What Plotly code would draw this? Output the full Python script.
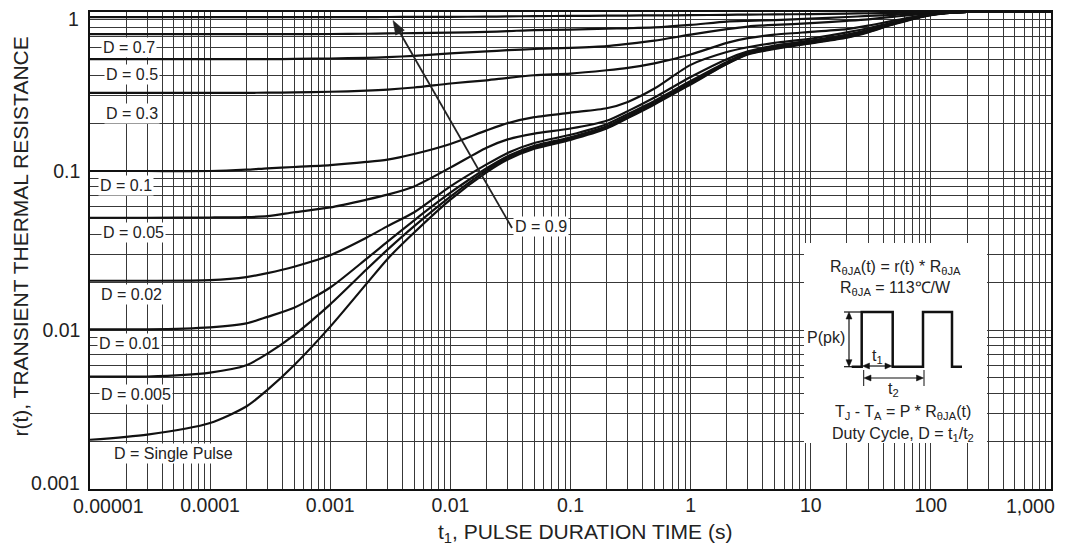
import math
import plotly.graph_objects as go

# ---------------- data ----------------
t = [1e-5, 3e-5, 1e-4, 2e-4, 3e-4, 5e-4, 1e-3, 2e-3, 3e-3, 5e-3, 1e-2, 2e-2, 3e-2, 5e-2,
     0.1, 0.2, 0.3, 0.5, 1, 2, 3, 5, 10, 20, 30, 50, 100, 200, 1000]

r_single = [0.00204, 0.0022, 0.0026, 0.0033, 0.0042, 0.006, 0.0105, 0.0195, 0.028, 0.041, 0.066,
            0.098, 0.118, 0.138, 0.157, 0.185, 0.215, 0.262, 0.35, 0.47, 0.54, 0.585, 0.635,
            0.69, 0.745, 0.84, 0.955, 1.0, 1.0]
r_d005 = [0.0051, 0.0051, 0.0054, 0.006, 0.0071, 0.0093, 0.0145, 0.024, 0.032, 0.045, 0.069,
          0.101, 0.121, 0.141, 0.16, 0.188, 0.218, 0.265, 0.355, 0.473, 0.545, 0.59, 0.64,
          0.695, 0.75, 0.845, 0.958, 1.0, 1.0]
r_d01 = [0.0101, 0.0101, 0.0104, 0.011, 0.0121, 0.0138, 0.0185, 0.028, 0.036, 0.049, 0.073,
         0.104, 0.124, 0.144, 0.163, 0.191, 0.222, 0.27, 0.36, 0.477, 0.55, 0.595, 0.645, 0.70,
         0.755, 0.85, 0.96, 1.0, 1.0]
r_d02 = [0.0204, 0.0204, 0.0206, 0.0215, 0.0228, 0.025, 0.0295, 0.038, 0.045, 0.055, 0.08,
         0.11, 0.13, 0.15, 0.169, 0.197, 0.228, 0.276, 0.368, 0.485, 0.556, 0.602, 0.652, 0.707,
         0.762, 0.854, 0.962, 1.0, 1.0]
r_d05 = [0.0508, 0.0508, 0.051, 0.0513, 0.052, 0.055, 0.059, 0.066, 0.071, 0.08, 0.105, 0.14,
         0.158, 0.172, 0.185, 0.207, 0.238, 0.29, 0.39, 0.505, 0.565, 0.615, 0.66, 0.72, 0.772,
         0.858, 0.964, 1.0, 1.0]
r_d1 = [0.1, 0.1, 0.1, 0.102, 0.104, 0.106, 0.109, 0.114, 0.118, 0.128, 0.148, 0.18, 0.2, 0.218,
        0.233, 0.248, 0.272, 0.33, 0.465, 0.56, 0.6, 0.64, 0.68, 0.745, 0.79, 0.865, 0.967,
        1.0, 1.0]
r_d3 = [0.31, 0.31, 0.31, 0.31, 0.311, 0.312, 0.315, 0.32, 0.325, 0.335, 0.355, 0.372, 0.385,
        0.40, 0.41, 0.43, 0.445, 0.475, 0.54, 0.64, 0.685, 0.72, 0.75, 0.78, 0.82, 0.885, 0.97,
        1.0, 1.0]
r_d5 = [0.505, 0.505, 0.505, 0.505, 0.505, 0.507, 0.51, 0.515, 0.52, 0.53, 0.55, 0.565, 0.575,
        0.585, 0.595, 0.61, 0.63, 0.66, 0.72, 0.78, 0.81, 0.83, 0.85, 0.88, 0.9, 0.935, 0.98,
        1.0, 1.0]
r_d7 = [0.725, 0.725, 0.725, 0.725, 0.725, 0.726, 0.727, 0.73, 0.733, 0.737, 0.742, 0.75, 0.758,
        0.77, 0.775, 0.785, 0.79, 0.80, 0.83, 0.87, 0.88, 0.89, 0.91, 0.93, 0.945, 0.96, 0.99,
        1.0, 1.0]
r_d9 = [0.928, 0.928, 0.928, 0.928, 0.928, 0.928, 0.928, 0.929, 0.93, 0.931, 0.932, 0.935,
        0.938, 0.942, 0.945, 0.948, 0.95, 0.952, 0.955, 0.96, 0.963, 0.966, 0.97, 0.978, 0.982,
        0.986, 0.995, 1.0, 1.0]

series = [r_single, r_d005, r_d01, r_d02, r_d05, r_d1, r_d3, r_d5, r_d7, r_d9]

x_decades = [1e-5, 1e-4, 1e-3, 1e-2, 1e-1, 1, 10, 100, 1000]
x_tick_text = ["0.00001", "0.0001", "0.001", "0.01", "0.1", "1", "10", "100", "1,000"]
y_decades = [0.001, 0.01, 0.1, 1]
y_tick_text = ["0.001", "0.01", "0.1", "1"]

curve_labels = ["D = 0.7", "D = 0.5", "D = 0.3", "D = 0.1", "D = 0.05", "D = 0.02",
                "D = 0.01", "D = 0.005", "D = Single Pulse"]
x_title = "t<sub>1</sub>, PULSE DURATION TIME (s)"
y_title = "r(t), TRANSIENT THERMAL RESISTANCE"
# ---------------------------------------------------------------

FONT = "Liberation Sans, Arial, Helvetica, sans-serif"
OFF = 8                      # page body margin of the html page
W, H = 1068 - OFF, 546 - OFF
L, R, T, B = 90, 1051, 12, 489   # plot area in screenshot pixels
XR, YR = "x domain", "y domain"
INK = "#111111"
TXT = "#222222"


def px(x):
    return (x - L) / (R - L)


def py(y):
    return (B - y) / (B - T)


def minors(vals):
    out = []
    for v in vals[:-1]:
        for k in range(2, 10):
            out.append(v * k)
    return out


fig = go.Figure()
for s in series:
    fig.add_trace(go.Scatter(x=t, y=s, mode="lines",
                             line=dict(color=INK, width=2.2, shape="spline", smoothing=0.7),
                             showlegend=False, hoverinfo="skip"))

gridc = "#383838"
tick_font = dict(family=FONT, size=19.5, color=TXT)
# inner decade labels come from the axes; the two end labels of each axis are
# nudged inward in the reference, so they are drawn as annotations below
fig.update_xaxes(type="log", range=[-5, 3], tickmode="array", tickvals=x_decades[1:-1],
                 ticktext=x_tick_text[1:-1], showgrid=True, gridcolor=gridc, gridwidth=1,
                 ticks="",
                 minor=dict(tickmode="array", tickvals=minors(x_decades), showgrid=True,
                            gridcolor=gridc, gridwidth=1, ticks=""),
                 showline=True, linecolor=INK, linewidth=1.5, mirror=True,
                 zeroline=False, tickfont=tick_font, ticklabelstandoff=-2)
fig.update_yaxes(type="log", range=[-3, 0], tickmode="array", tickvals=y_decades[1:-1],
                 ticktext=y_tick_text[1:-1], showgrid=True, gridcolor=gridc, gridwidth=1,
                 ticks="",
                 minor=dict(tickmode="array", tickvals=minors(y_decades), showgrid=True,
                            gridcolor=gridc, gridwidth=1, ticks=""),
                 showline=True, linecolor=INK, linewidth=1.5, mirror=True,
                 zeroline=False, tickfont=tick_font, ticklabelstandoff=4)

ann = []
# end tick labels
ann.append(dict(x=px(71), y=py(506), xref=XR, yref=YR, text=x_tick_text[0], showarrow=False,
                font=tick_font, xanchor="left", yanchor="middle"))
ann.append(dict(x=px(1057), y=py(506), xref=XR, yref=YR, text=x_tick_text[-1],
                showarrow=False, font=tick_font, xanchor="right", yanchor="middle"))
ann.append(dict(x=px(82), y=py(482.5), xref=XR, yref=YR, text=y_tick_text[0],
                showarrow=False, font=tick_font, xanchor="right", yanchor="middle"))
ann.append(dict(x=px(81), y=py(18.7), xref=XR, yref=YR, text=y_tick_text[-1],
                showarrow=False, font=tick_font, xanchor="right", yanchor="middle"))

# axis titles
ann.append(dict(x=px(585), y=py(533), xref=XR, yref=YR, text=x_title, showarrow=False,
                font=dict(family=FONT, size=21, color=TXT), xanchor="center",
                yanchor="middle"))
ann.append(dict(x=px(20), y=py(236.5), xref=XR, yref=YR, text=y_title, showarrow=False,
                textangle=-90, font=dict(family=FONT, size=21, color=TXT),
                xanchor="center", yanchor="middle"))

# curve labels (left side)
lab_pos = [(129, 47.7), (132, 75), (132, 114), (126, 185.7), (133, 232), (131, 294),
           (129, 343), (136, 394), (173, 453)]
for txt, (xp, yp) in zip(curve_labels, lab_pos):
    ann.append(dict(x=px(xp), y=py(yp), xref=XR, yref=YR, text=txt, showarrow=False,
                    font=dict(family=FONT, size=16, color=TXT), bgcolor="white",
                    borderpad=1, xanchor="center", yanchor="middle"))

# D = 0.9 label
ann.append(dict(x=px(541), y=py(226.7), xref=XR, yref=YR, text="D = 0.9",
                showarrow=False, font=dict(family=FONT, size=16, color=TXT),
                bgcolor="white", borderpad=1, xanchor="center", yanchor="middle"))

shapes = []


def arrow(x0, y0, x1, y1, hl, hw, color, width, both=False):
    """Arrow drawn in screenshot pixels; returns plotly shapes."""
    dx, dy = x1 - x0, y1 - y0
    n = math.hypot(dx, dy)
    ux, uy = dx / n, dy / n
    out = []
    sx, sy = (x0 + ux * hl * 0.8, y0 + uy * hl * 0.8) if both else (x0, y0)
    ex, ey = x1 - ux * hl * 0.8, y1 - uy * hl * 0.8
    out.append(dict(type="line", xref="paper", yref="paper", x0=px(sx), y0=py(sy),
                    x1=px(ex), y1=py(ey), line=dict(color=color, width=width), layer="above"))
    tips = [(x1, y1, ux, uy)]
    if both:
        tips.append((x0, y0, -ux, -uy))
    for tx, ty, ax_, ay_ in tips:
        bx, by = tx - ax_ * hl, ty - ay_ * hl
        pts = [(tx, ty), (bx + (-ay_) * hw, by + ax_ * hw), (bx - (-ay_) * hw, by - ax_ * hw)]
        pth = "M " + " L ".join(f"{px(a):.5f},{py(b):.5f}" for a, b in pts) + " Z"
        out.append(dict(type="path", xref="paper", yref="paper", path=pth, fillcolor=color,
                        line=dict(color=color, width=0.5), layer="above"))
    return out


# D = 0.9 arrow
shapes += arrow(512, 228, 393, 20.5, 14, 5, "#222222", 1.8)

# white info box
shapes.append(dict(type="rect", xref="paper", yref="paper", x0=px(804), x1=px(987),
                   y0=py(443), y1=py(243), fillcolor="white", line=dict(width=0), layer="above"))

box_font = dict(family=FONT, size=16, color=TXT)
box_text = [
    (895, 267, "center", "R<sub>θJA</sub>(t) = r(t) * R<sub>θJA</sub>"),
    (895, 288, "center", "R<sub>θJA</sub> = 113℃/W"),
    (847, 338, "right", "P(pk)"),
    (877, 356, "center", "t<sub>1</sub>"),
    (893, 389, "center", "t<sub>2</sub>"),
    (903, 412, "center", "T<sub>J</sub> - T<sub>A</sub> = P * R<sub>θJA</sub>(t)"),
    (903, 434, "center", "Duty Cycle, D = t<sub>1</sub>/t<sub>2</sub>"),
]
for xp, yp, anc, txt in box_text:
    ann.append(dict(x=px(xp), y=py(yp), xref=XR, yref=YR, showarrow=False, text=txt,
                    font=box_font, xanchor=anc, yanchor="middle"))

# pulse waveform
wave = [(851.7, 366.7), (861.7, 366.7), (861.7, 312), (892.7, 312), (892.7, 366.7),
        (923, 366.7), (923, 312), (952, 312), (952, 366.7), (962, 366.7)]
path = "M " + " L ".join(f"{px(a):.5f},{py(b):.5f}" for a, b in wave)
shapes.append(dict(type="path", xref="paper", yref="paper", path=path,
                   line=dict(color=INK, width=2.5), layer="above"))
# small horizontal ticks for P(pk)
for yy in (312, 366.7):
    shapes.append(dict(type="line", xref="paper", yref="paper", x0=px(844), x1=px(862),
                       y0=py(yy), y1=py(yy), line=dict(color=INK, width=1.2), layer="above"))
# t2 end ticks
for xx in (863.7, 924):
    shapes.append(dict(type="line", xref="paper", yref="paper", x0=px(xx), x1=px(xx),
                       y0=py(370), y1=py(386), line=dict(color=INK, width=1), layer="above"))

# double arrows inside the box
shapes += arrow(849, 366.7, 849, 312, 7, 3, INK, 1.2, both=True)
shapes += arrow(862.5, 366, 892, 366, 7, 3, INK, 1.2, both=True)
shapes += arrow(864, 378, 923.5, 378, 7, 3, INK, 1.2, both=True)

fig.update_layout(width=W, height=H,
                  margin=dict(l=L - OFF, r=W - (R - OFF), t=T - OFF, b=H - (B - OFF),
                              autoexpand=False),
                  plot_bgcolor="white", paper_bgcolor="white", annotations=ann, shapes=shapes,
                  showlegend=False)

fig.write_html("out.html")
